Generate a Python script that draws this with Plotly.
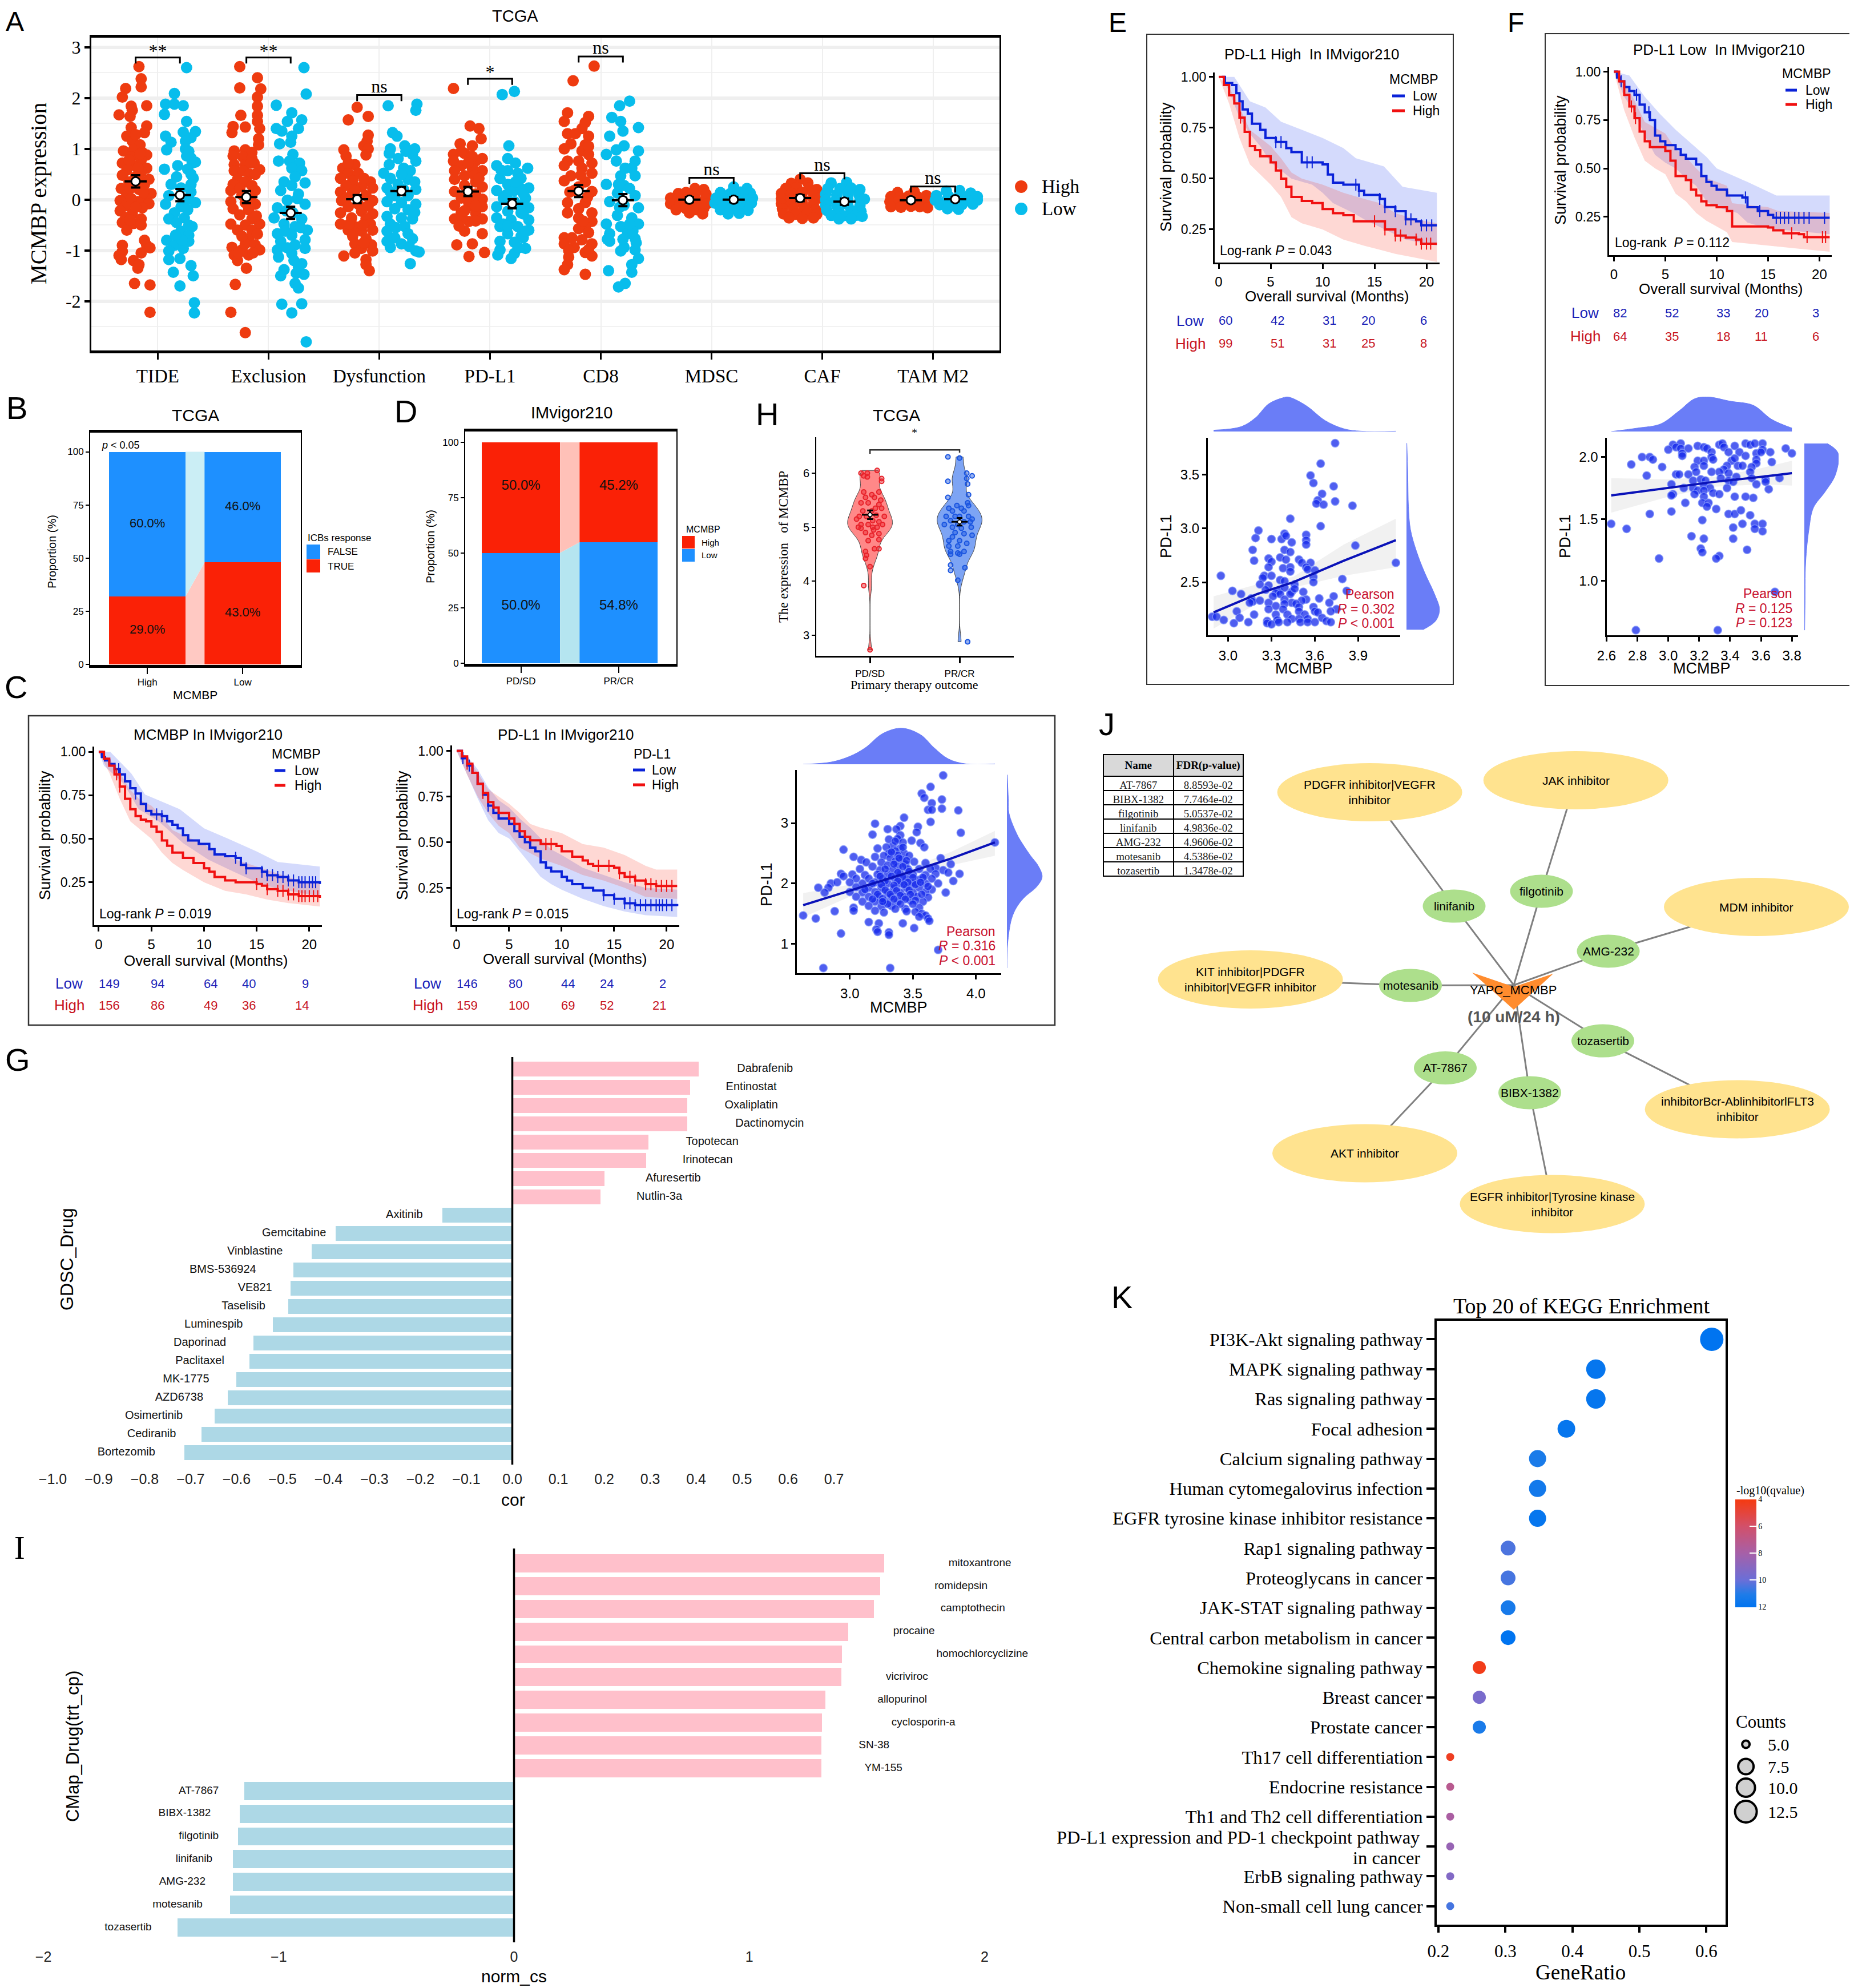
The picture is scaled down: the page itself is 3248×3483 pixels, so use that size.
import bisect
import plotly.graph_objects as go

W, H = 3248, 3483
PAD = 8  # the page body keeps its default margin, so everything is drawn this much up and left
SANS = "Liberation Sans"
SERIF = "Liberation Serif"
RED_A, BLUE_A = "#EE3B10", "#08BDEC"
BAR_BLUE, BAR_RED = "#1E90FF", "#FA2106"
KM_BLUE, KM_RED = "#0A22D8", "#F01010"
DOT_FILL = "rgba(20,40,235,0.75)"
DENS = "#6A7DF7"
TXT_RED = "#C8102E"
TBL_BLUE = "#1A1FB8"

# ---------- panel A ----------
a_groups = ["TIDE", "Exclusion", "Dysfunction", "PD-L1", "CD8", "MDSC", "CAF", "TAM M2"]
a_means_high = [0.36, 0.05, 0.01, 0.16, 0.17, 0.0, 0.03, -0.01]
a_means_low = [0.09, -0.26, 0.17, -0.08, -0.01, 0.0, -0.04, 0.01]
a_err = [0.12, 0.12, 0.08, 0.09, 0.12, 0.05, 0.06, 0.04]
a_bracket = [2.8, 2.8, 2.06, 2.38, 2.82, 0.43, 0.52, 0.26]
a_sig = ["**", "**", "ns", "*", "ns", "ns", "ns", "ns"]

tide_high = [(.03,2.62),(.05,2.38),(.05,2.22),(-.09,2.19),(-.12,2.02),(.1,1.85),(-.04,1.84),(-.03,1.76),(-.15,1.67),(-.05,1.64),(.1,1.45),(-.04,1.42),(.08,1.32),(-.08,1.25),(-.03,1.15),(.04,1.08),(-.11,.96),(-.02,.98),(.06,.93),(.1,.88),(-.04,.84),(.05,.78),(-.12,.72),(-.03,.68),(.1,.62),(-.08,.58),(.05,.55),(-.12,.48),(0,.45),(.12,.4),(-.06,.35),(.08,.3),(-.13,.22),(.03,.2),(.14,.12),(-.08,.1),(.08,.04),(-.14,-.02),(.02,-.04),(.12,-.08),(-.09,-.12),(.06,-.16),(-.14,-.22),(-.03,-.28),(-.09,-.35),(.05,-.38),(-.12,-.45),(-.02,-.47),(.05,-.5),(-.08,-.6),(.08,-.8),(-.12,-.9),(.1,-.9),(.13,-.95),(-.12,-1.02),(.05,-1.05),(-.15,-1.1),(-.13,-1.18),(-.02,-1.2),(.03,-1.28),(.02,-1.35),(-.01,-1.65),(.13,-1.68),(.13,-2.22),(.02,.62),(-.06,.78),(.03,.42),(-.05,.22),(.07,.14),(-.04,.02),(.0,-.15),(-.05,-.4),(.0,1.28),(.04,.9)]
tide_low = [(.06,2.6),(-.05,2.09),(-.13,1.88),(-.05,1.88),(.03,1.85),(-.14,1.68),(.06,1.54),(.14,1.34),(.03,1.33),(-.13,1.25),(.1,1.22),(-.08,1.13),(-.12,.98),(.05,1.0),(.06,.86),(.11,.72),(-.02,.67),(-.14,.6),(.14,.74),(-.03,.45),(.12,.42),(-.08,.3),(.1,.3),(.01,.23),(-.1,.08),(.08,.03),(.14,-.06),(-.13,-.09),(.01,-.14),(-.05,-.26),(-.1,-.38),(.04,-.36),(-.03,-.45),(.11,-.53),(.01,-.62),(.08,-.7),(-.12,-.8),(.08,-.82),(-.05,-.9),(-.1,-1.01),(.03,-.96),(-.1,-1.18),(0,-1.16),(.1,-1.3),(-.06,-1.43),(.12,-1.5),(0,-1.7),(.13,-2.03),(.13,-2.23),(.07,.6),(.1,.5),(.1,.15),(.05,-.03),(.07,-.2),(.08,-.5),(.02,-.8),(.08,.95),(.1,.82),(-.04,-.7),(.05,1.15)]
excl_high = [(-.06,2.62),(.1,2.4),(-.06,2.2),(.13,2.18),(.1,2.02),(.1,1.84),(-.05,1.66),(.1,1.66),(.1,1.54),(-.01,1.43),(-.12,1.44),(-.13,1.32),(.12,1.4),(.11,1.2),(.11,1.08),(-.11,.96),(-.01,.98),(.05,.93),(-.12,.86),(-.03,.84),(.05,.81),(-.11,.69),(-.01,.69),(.07,.72),(-.11,.57),(-.03,.57),(.12,.59),(.03,.5),(-.08,.4),(-.12,.3),(-.01,.35),(.05,.28),(-.14,.18),(.08,.18),(-.04,.1),(-.14,-.04),(-.01,-.06),(.08,-.09),(-.12,-.18),(.02,-.2),(-.06,-.3),(.05,-.38),(-.14,-.48),(-.01,-.5),(.12,-.48),(-.08,-.6),(.05,-.6),(.02,-.77),(-.13,-.94),(-.01,-.87),(.08,-.89),(-.04,-.99),(.12,-.99),(-.11,-1.09),(.02,-1.09),(-.08,-1.2),(0,-1.35),(-.1,-1.67),(-.14,-2.22),(-.01,-2.62),(.04,.72),(.08,.5),(-.06,.22),(.04,.02),(.09,-.32),(-.04,-.72),(.06,-1.05),(-.07,-1.05),(.1,-.68)]
excl_low = [(.12,2.6),(.14,2.08),(-.13,1.86),(.01,1.71),(-.03,1.54),(.1,1.57),(-.13,1.4),(-.08,1.35),(.07,1.4),(.01,1.25),(-.1,1.1),(0,1.13),(.02,.89),(-.11,.76),(-.01,.76),(.08,.72),(.01,.62),(.1,.57),(-.06,.35),(.13,.33),(.01,.28),(-.09,.18),(.07,.11),(-.03,-.01),(.13,-.09),(-.12,-.16),(.02,-.26),(-.15,-.36),(.1,-.38),(-.06,-.48),(.04,-.53),(.15,-.6),(-.12,-.67),(.01,-.7),(-.09,-.82),(.13,-.79),(.04,-.89),(-.12,-.99),(.13,-.96),(.01,-1.06),(-.11,-1.13),(.1,-1.26),(-.06,-1.38),(.07,-1.33),(-.09,-1.5),(.12,-1.47),(.04,-1.65),(.07,-1.74),(-.08,-2.06),(.1,-2.05),(.01,-2.23),(.14,-2.8),(.04,.45),(.06,.02),(-.04,-.22),(.09,-.55),(-.05,-.62),(-.03,-.95),(.03,-1.2),(.05,-1.45)]
dysf_high = [(0,1.82),(.1,1.64),(-.08,1.57),(.1,1.27),(.09,1.15),(.06,1.06),(-.12,.98),(.1,1.0),(-.1,.86),(.08,.88),(-.02,.69),(-.13,.62),(-.08,.52),(.01,.52),(-.15,.42),(-.04,.37),(.12,.35),(-.1,.28),(.04,.25),(.14,.23),(-.15,.15),(-.05,.1),(.08,.08),(-.14,-.02),(.14,-.02),(.01,-.09),(-.08,-.14),(-.15,-.26),(.04,-.23),(.14,-.28),(-.05,-.36),(.08,-.38),(-.15,-.48),(-.02,-.53),(.12,-.48),(-.08,-.6),(.04,-.62),(.14,-.6),(-.04,-.72),(.08,-.77),(-.02,-.87),(.13,-.89),(.04,-.96),(.14,-1.01),(-.02,-1.05),(-.12,-1.11),(.08,-1.18),(.08,-1.28),(.11,-1.4),(-.08,.72),(.06,.42),(-.02,.18),(.1,-.12),(-.07,-.48),(-.1,.02),(.05,-.5),(.06,-.85)]
dysf_low = [(-.12,1.85),(.14,1.88),(.13,1.76),(-.08,1.32),(-.04,1.25),(.03,1.06),(-.1,1.0),(.12,1.0),(-.11,.91),(.1,.89),(-.03,.81),(.13,.76),(-.11,.69),(.02,.62),(.08,.57),(-.16,.52),(-.1,.42),(.06,.4),(-.03,.3),(-.13,.23),(.13,.2),(-.06,.08),(.06,.08),(-.13,-.04),(0,-.06),(.13,-.09),(-.06,-.18),(.06,-.2),(-.13,-.33),(0,-.36),(.1,-.38),(-.1,-.48),(.03,-.53),(-.13,-.62),(.06,-.67),(-.06,-.75),(.1,-.77),(-.13,-.82),(0,-.87),(-.1,-.94),(.13,-1.01),(.16,-1.03),(.08,-1.26),(.0,.5),(.12,.35),(.02,.2),(-.1,.15),(.12,-.25),(-.05,-.55),(.07,-.92),(.04,.95)]
pdl1_high = [(-.13,2.19),(.02,1.45),(.1,1.4),(.12,1.2),(-.07,1.1),(.04,1.06),(-.13,.89),(-.03,.91),(.13,.81),(.07,.76),(-.13,.76),(-.06,.67),(.04,.62),(-.12,.57),(.13,.57),(-.03,.47),(-.12,.4),(.07,.35),(-.03,.28),(.13,.25),(-.12,.16),(.07,.11),(-.06,.03),(.13,.01),(-.12,-.11),(.01,-.11),(.13,-.14),(-.06,-.26),(.07,-.26),(-.12,-.38),(.01,-.43),(.13,-.38),(-.03,-.62),(.13,-.67),(.04,-.87),(-.1,-.89),(.15,-1.04),(.01,-1.12),(.06,.48),(.0,.18),(.05,.0),(.0,-.02),(-.05,-.36),(.07,-.42),(.04,.85),(-.06,.95),(.0,.72),(.1,.42),(.07,-.12),(-.03,-.22),(-.08,-.52)]
pdl1_low = [(.02,2.13),(-.09,2.07),(-.03,1.06),(-.04,.81),(-.14,.67),(.14,.62),(-.04,.57),(.05,.52),(-.11,.42),(.08,.42),(-.04,.3),(.15,.23),(-.14,.18),(.02,.18),(-.08,.03),(.12,.03),(.02,-.04),(-.14,-.14),(.15,-.16),(-.04,-.23),(.08,-.26),(-.14,-.36),(-.01,-.4),(.15,-.4),(-.11,-.53),(.05,-.53),(.15,-.6),(-.04,-.67),(.08,-.72),(-.11,-.82),(.02,-.84),(.12,-.96),(-.11,-.99),(.02,-1.06),(-.13,-1.09),(-.01,-1.16),(.03,.72),(-.1,.58),(.08,.22),(.1,.12),(-.05,.1),(.07,-.12),(.1,-.28),(-.08,-.48),(.1,-.75),(-.04,-.52),(.03,.35),(.12,-.62),(.06,-.95)]
cd8_high = [(.14,2.63),(-.05,2.34),(-.1,1.71),(.09,1.64),(-.13,1.54),(.06,1.52),(.03,1.4),(-.1,1.3),(.09,1.25),(-.07,1.1),(.06,1.08),(-.13,1.0),(.03,.96),(.09,.89),(-.1,.76),(0,.76),(.12,.72),(-.13,.67),(.03,.62),(.12,.52),(-.07,.47),(-.13,.37),(.06,.35),(-.04,.18),(.12,.16),(-.1,-.06),(.06,-.06),(0,-.18),(.12,-.26),(-.1,-.26),(0,-.36),(.12,-.43),(.06,-.53),(0,-.57),(.09,-.65),(-.13,-.75),(.03,-.79),(.12,-.87),(-.13,-.87),(-.04,-.94),(.06,-1.04),(.12,-1.11),(-.09,-1.13),(-.1,-1.28),(-.13,-1.38),(.06,-1.47),(.02,.48),(.08,.05),(-.03,1.3),(.0,.25),(-.08,.15),(-.06,-.75),(-.09,-1.0),(.09,-.98),(.04,-.42),(.09,1.05)]
cd8_low = [(.06,1.94),(-.03,1.85),(-.1,1.62),(-.02,1.54),(.14,1.42),(0,1.35),(-.12,1.25),(.01,1.06),(-.06,.98),(-.15,.89),(.14,.96),(-.06,.76),(.11,.76),(.08,.62),(-.02,.47),(.11,.47),(-.15,.3),(.01,.28),(-.05,.13),(.11,.08),(-.12,-.04),(.01,-.11),(.14,-.16),(-.05,-.31),(.08,-.36),(-.15,-.48),(-.02,-.53),(.14,-.48),(-.12,-.67),(.04,-.67),(-.12,-.82),(.11,-.77),(.01,-.94),(.11,-.99),(-.02,-1.01),(.14,-1.16),(.08,-1.28),(-.13,-1.4),(.08,-1.43),(.02,-1.65),(-.04,-1.72),(-.04,.3),(.06,.22),(-.03,-.15),(.09,-.62),(.0,-.78),(.06,-.48),(.02,.62),(-.14,-.78),(.12,-.85)]
mdsc_high = [(.05,.22),(.13,.2),(-.1,.12),(-.03,.14),(.05,.1),(.15,.11),(-.17,.03),(-.1,.02),(-.02,.04),(.06,.0),(.15,.02),(-.17,-.08),(-.09,-.1),(0,-.07),(.08,-.1),(.16,-.08),(-.12,-.2),(-.03,-.18),(.07,-.2),(.13,-.17),(0,-.26),(.12,-.28)]
mdsc_low = [(.0,.25),(.12,.22),(-.12,.14),(-.03,.12),(.06,.15),(.15,.13),(-.16,.03),(-.08,.01),(.02,.04),(.1,.0),(.17,.03),(-.17,-.07),(-.1,-.1),(-.01,-.08),(.08,-.1),(.16,-.07),(-.12,-.2),(-.03,-.2),(.06,-.18),(.13,-.21),(-.05,-.28),(.05,-.27)]
caf_high = [(.0,.4),(-.08,.32),(.07,.33),(-.13,.22),(-.03,.24),(.08,.23),(.15,.2),(-.17,.12),(-.08,.12),(.02,.14),(.12,.12),(-.17,.02),(-.08,.01),(.02,.03),(.12,.02),(.18,.03),(-.17,-.08),(-.08,-.09),(.02,-.07),(.12,-.09),(-.16,-.18),(-.06,-.19),(.04,-.18),(.14,-.2),(-.15,-.28),(-.04,-.29),(.06,-.28),(.15,-.29),(-.1,-.36),(.02,-.37),(.12,-.36)]
caf_low = [(-.12,.33),(.02,.34),(-.15,.22),(-.04,.22),(.06,.23),(.14,.2),(-.17,.11),(-.07,.1),(.03,.12),(.13,.1),(-.17,0),(-.08,-.02),(.03,.01),(.14,-.01),(.18,.01),(-.17,-.11),(-.07,-.12),(.03,-.1),(.14,-.12),(-.16,-.21),(-.05,-.22),(.06,-.21),(.15,-.23),(-.12,-.31),(-.01,-.32),(.1,-.31),(.16,-.33),(-.05,-.38),(.06,-.38)]
tam_high = [(-.12,.14),(.03,.16),(-.18,.06),(-.1,.05),(-.02,.07),(.06,.06),(.14,.08),(-.19,-.04),(-.11,-.03),(-.02,-.04),(.06,-.03),(.14,-.04),(-.18,-.14),(-.09,-.15),(0,-.13),(.08,-.14),(.15,-.16)]
tam_low = [(-.08,.17),(.04,.18),(.14,.13),(-.17,.08),(-.06,.07),(.04,.08),(.12,.07),(.2,.06),(-.18,-.01),(-.08,-.02),(.02,-.01),(.12,-.02),(.2,-.01),(-.14,-.1),(-.04,-.11),(.06,-.1),(.16,-.09),(-.07,-.18),(.03,-.19)]
a_high = [tide_high, excl_high, dysf_high, pdl1_high, cd8_high, mdsc_high, caf_high, tam_high]
a_low = [tide_low, excl_low, dysf_low, pdl1_low, cd8_low, mdsc_low, caf_low, tam_low]

# ---------- panels B, D ----------
b_true = [32, 48]
b_false = [68, 52]
b_text_false = ["60.0%", "46.0%"]
b_text_true = ["29.0%", "43.0%"]
b_text_false_y = [66, 74]
b_text_true_y = [16, 24]
b_ticks = ["High", "Low"]
d_low = [50, 54.8]
d_high = [50, 45.2]
d_text_low = ["50.0%", "54.8%"]
d_text_high = ["50.0%", "45.2%"]
d_ticks = ["PD/SD", "PR/CR"]

# ---------- panel H ----------
h_ticks = ["PD/SD", "PR/CR"]
h_mean = [5.23, 5.1]
h_err = [0.08, 0.07]
h_high = [(-.1,6.0),(-.03,6.0),(.08,6.05),(-.07,5.95),(.13,5.9),(.13,5.85),(-.03,5.93),(-.07,5.65),(.02,5.6),(.1,5.65),(-.05,5.55),(.05,5.55),(.12,5.5),(-.1,5.45),(-.02,5.45),(.06,5.35),(.1,5.42),(-.08,5.3),(.02,5.3),(.13,5.35),(-.12,5.2),(-.04,5.2),(.07,5.22),(.03,5.12),(-.15,5.15),(-.1,5.05),(.1,5.1),(.16,5.2),(-.02,5.05),(.08,5.0),(-.1,4.98),(-.13,5.0),(.04,4.95),(.14,5.05),(.03,5.0),(.1,4.88),(-.05,4.9),(.02,4.85),(.1,4.77),(-.02,4.75),(.05,4.6),(.1,4.6),(-.05,4.55),(-.05,4.42),(-.04,4.48),(0,4.27),(-.07,3.92),(0,2.73)]
h_low = [(-.13,6.3),(0,6.28),(.14,5.95),(.08,6.0),(.08,5.9),(-.13,5.85),(.09,5.8),(.1,5.6),(-.13,5.55),(.09,5.45),(-.03,5.4),(.02,5.35),(.1,5.4),(-.12,5.35),(-.08,5.3),(.05,5.3),(-.05,5.2),(0,5.2),(.1,5.2),(-.15,5.2),(.14,5.15),(-.1,5.12),(.05,5.1),(-.02,5.05),(.12,5.1),(-.17,5.05),(.02,4.98),(-.08,5.0),(.13,5.0),(-.05,4.9),(.05,4.88),(.14,4.85),(-.08,4.82),(-.12,4.75),(0,4.75),(-.12,4.65),(-.02,4.65),(.08,4.7),(-.1,4.55),(-.1,4.5),(-.02,4.52),(.05,4.55),(0,4.5),(-.1,4.3),(.06,4.25),(-.1,4.2),(-.02,4.02),(.09,2.88)]

# ---------- survival curves (month, probability) ----------
c1_low = [(0,1),(.3,.97),(.6,.95),(1,.93),(1.5,.9),(2,.87),(2.5,.83),(3,.79),(3.5,.76),(4,.7),(4.5,.66),(5,.64),(6,.63),(6.5,.6),(7,.58),(7.5,.56),(8,.52),(8.5,.49),(9.5,.47),(10.5,.44),(11,.41),(12,.4),(13,.39),(13.5,.35),(14,.33),(15,.33),(15.5,.31),(16,.29),(17,.28),(18,.26),(19,.25),(21,.24)]
c1_high = [(0,1),(.5,.96),(1,.92),(1.5,.87),(2,.8),(2.5,.73),(3,.67),(3.5,.63),(4,.61),(4.5,.6),(5,.57),(5.5,.54),(6,.49),(6.5,.46),(7,.42),(8,.39),(9,.36),(10,.33),(10.5,.31),(11,.28),(12,.26),(13,.25),(15,.24),(15.5,.23),(16,.21),(17,.2),(18,.18),(19,.17),(21,.16)]
c1_low_up = [(0,1),(1.1,1),(3.1,.875),(4.4,.754),(7.7,.67),(10,.56),(12.3,.5),(15,.427),(17,.366),(21,.34)]
c1_low_dn = [(0,1),(.5,.92),(2.4,.815),(3.8,.67),(5.7,.6),(8,.475),(10.4,.38),(13,.305),(15.6,.233),(19,.19),(21,.17)]
c1_high_up = [(0,1),(1,.96),(2,.88),(3,.78),(4,.72),(5,.69),(6,.63),(7,.55),(8,.52),(10,.47),(11,.42),(13,.38),(15,.34),(17,.3),(19,.26),(21,.25)]
c1_high_dn = [(0,1),(1,.88),(2,.73),(3,.6),(4,.55),(5,.5),(6,.42),(7,.36),(8,.32),(10,.25),(12,.2),(14,.18),(16,.15),(18,.13),(21,.11)]
c1_cens_low = [1.9,3.5,5.5,6,13,14,15.5,16,16.5,17,17.5,18,18.5,19,19.3,19.6,20,20.3,20.6]
c1_cens_high = [1.7,2,15,16,17,17.5,18,18.5,19,19.3,19.6,20,20.4,20.8]

c2_low = [(0,1),(.5,.96),(1,.92),(1.5,.88),(2,.82),(2.5,.76),(3,.7),(3.5,.66),(4,.63),(5,.6),(5.5,.56),(6,.53),(6.5,.5),(7,.47),(7.5,.45),(8,.39),(8.5,.36),(9,.34),(10,.31),(10.5,.29),(11,.27),(12,.25),(13,.235),(14,.21),(15,.19),(16,.165),(17,.155),(21,.15)]
c2_high = [(0,1),(.5,.97),(1,.93),(1.5,.88),(2,.82),(2.5,.77),(3,.72),(3.5,.69),(4,.66),(5,.63),(5.5,.6),(6,.56),(6.5,.53),(7,.51),(8,.49),(9.5,.48),(10,.45),(11,.42),(12,.4),(12.5,.38),(13,.37),(15,.36),(15.5,.33),(16,.31),(17,.29),(18,.27),(19,.26),(21,.26)]
c2_low_up = [(0,1),(1,.97),(2,.9),(3,.8),(4,.73),(5,.69),(6,.63),(7,.58),(8,.52),(9,.46),(10,.43),(12,.36),(14,.32),(16,.28),(18,.25),(21,.24)]
c2_low_dn = [(0,1),(1,.87),(2,.74),(3,.62),(4,.55),(5,.52),(6,.45),(7,.38),(8,.31),(9,.27),(10,.24),(12,.19),(14,.15),(16,.12),(18,.1),(21,.09)]
c2_high_up = [(0,1),(1,.97),(2,.88),(3,.79),(4,.75),(5,.71),(6,.66),(7,.6),(8,.58),(10,.55),(12,.49),(14,.47),(16,.43),(18,.37),(19,.35),(21,.35)]
c2_high_dn = [(0,1),(1,.87),(2,.75),(3,.66),(4,.59),(5,.55),(6,.47),(7,.44),(8,.41),(10,.37),(12,.32),(14,.29),(16,.25),(18,.2),(21,.19)]
c2_cens_low = [.6,1.2,3,14,15,16,16.5,17,17.5,18,18.5,19,19.3,19.6,20,20.5]
c2_cens_high = [1,2.5,8.5,9,13.5,14.5,15.5,16.5,17,18,18.5,19,19.5,20,20.5]

e_low = [(.3,1),(.6,.97),(1.3,.96),(1.7,.92),(2,.88),(2.3,.84),(2.8,.82),(3.2,.77),(4,.74),(4.5,.7),(5.5,.68),(6.5,.65),(7,.63),(8,.58),(10,.57),(10.5,.52),(11,.48),(12,.47),(13.5,.44),(14,.42),(15.5,.4),(16,.36),(17,.34),(18,.3),(19,.29),(19.5,.27),(21,.27)]
e_high = [(0,1),(.5,.96),(1,.91),(1.5,.87),(2,.8),(2.5,.73),(3,.66),(3.5,.64),(4,.61),(5,.58),(5.5,.54),(6,.5),(6.5,.46),(7,.41),(8,.39),(9,.38),(10,.35),(11,.33),(12,.32),(13,.29),(15.5,.29),(16,.25),(17,.22),(18,.21),(19,.2),(19.5,.18),(21,.18)]
e_low_up = [(.3,1),(1.5,1),(3,.88),(4.5,.85),(6,.78),(8,.74),(10,.7),(12,.65),(13.2,.6),(15.9,.56),(17,.5),(17.7,.46),(21,.43)]
e_low_dn = [(.3,1),(1,.93),(2,.8),(3,.72),(4,.66),(5,.58),(6,.54),(7,.5),(9,.47),(10,.43),(11,.38),(13,.33),(14,.3),(16,.25),(18,.2),(21,.17)]
e_high_up = [(0,1),(1,.95),(2,.85),(3,.74),(4,.7),(5,.66),(6,.6),(7,.53),(8,.5),(10,.47),(12,.43),(14,.4),(15.5,.38),(17,.33),(19,.3),(21,.28)]
e_high_dn = [(0,1),(1,.87),(2,.7),(3,.57),(4,.52),(5,.47),(6,.41),(7,.31),(8,.28),(10,.25),(12,.2),(14,.17),(15.5,.15),(17,.13),(19,.11),(21,.09)]
e_cens_low = [5.5,6,8.5,9,13.2,13.5,15.5,16,17,18,18.5,19.5,20,20.5]
e_cens_high = [2.1,15,16,17,17.5,19,19.5,20,20.4]

f_low = [(0,1),(.3,.97),(.6,.95),(1,.92),(1.5,.9),(2,.88),(2.5,.83),(3,.79),(3.5,.75),(4,.67),(4.5,.64),(5,.62),(6,.6),(6.5,.57),(7,.55),(8,.52),(8.5,.46),(9,.43),(9.5,.41),(10,.39),(11,.36),(12.5,.35),(13,.3),(14,.28),(15,.26),(15.5,.245),(21,.245)]
f_high = [(0,1),(.5,.95),(1,.88),(1.5,.82),(2,.76),(2.5,.69),(3,.64),(3.5,.61),(5,.59),(5.5,.54),(6,.46),(7,.44),(7.5,.39),(8,.36),(8.5,.33),(9,.31),(10,.3),(11,.28),(11.5,.2),(15,.195),(15.5,.18),(16.5,.165),(18,.16),(18.5,.145),(21,.145)]
f_low_up = [(0,1),(1.5,.98),(3,.87),(4.5,.78),(6,.7),(9,.56),(10,.5),(13,.43),(15.8,.36),(21,.36)]
f_low_dn = [(0,1),(1,.87),(2,.79),(3,.67),(4,.57),(5,.53),(6,.5),(7,.45),(8,.41),(9,.33),(10,.3),(12,.27),(13,.22),(15,.19),(21,.16)]
f_high_up = [(0,1),(1,.95),(2,.85),(3,.74),(4,.71),(5,.68),(6,.6),(7,.56),(8,.5),(9,.45),(10,.43),(11,.41),(11.5,.32),(15,.3),(16,.28),(21,.27)]
f_high_dn = [(0,1),(1,.8),(2,.66),(3,.54),(4,.5),(5,.47),(6,.37),(7,.33),(8,.27),(9,.23),(10,.2),(11,.17),(11.5,.12),(15,.1),(18,.085),(21,.07)]
f_cens_low = [.7,2.2,3.4,12.8,14.2,15.8,16.2,16.6,17,17.6,18,18.5,19,20.5]
f_cens_high = [1.7,2.1,17.3,18.8,20.3,20.6]

c1_risk_low = ["149", "94", "64", "40", "9"]
c1_risk_high = ["156", "86", "49", "36", "14"]
c2_risk_low = ["146", "80", "44", "24", "2"]
c2_risk_high = ["159", "100", "69", "52", "21"]
e_risk_low = ["60", "42", "31", "20", "6"]
e_risk_high = ["99", "51", "31", "25", "8"]
f_risk_low = ["82", "52", "33", "20", "3"]
f_risk_high = ["64", "35", "18", "11", "6"]

# ---------- MCMBP vs PD-L1 scatters ----------
c3_points = [(3.74,3.79),(3.64,3.6),(3.57,3.49),(3.59,3.42),(3.73,3.39),(3.65,3.33),(3.73,3.24),(3.62,3.22),(3.65,3.22),(3.86,3.21),(3.43,3.09),(3.64,3.02),(3.2,2.99),(3.4,2.95),(3.3,2.9),(3.37,2.9),(3.54,2.94),(3.53,2.85),(3.88,2.84),(3.18,2.81),(3.4,2.8),(3.31,2.73),(3.49,2.71),(3.56,2.67),(3.59,2.6),(4.15,2.68),(2.95,2.56),(3.03,2.44),(3.09,2.39),(3.38,2.74),(3.42,2.68),(3.34,2.62),(3.29,2.6),(3.22,2.58),(3.4,2.58),(3.36,2.54),(3.31,2.5),(3.43,2.5),(3.27,2.46),(3.38,2.47),(3.2,2.44),(3.47,2.46),(3.32,2.42),(3.41,2.4),(3.36,2.37),(3.13,2.35),(3.25,2.35),(3.51,2.36),(3.6,2.34),(3.44,2.32),(3.3,2.3),(3.38,2.28),(3.18,2.28),(3.68,2.26),(3.8,2.32),(3.72,2.42),(3.08,2.24),(3.24,2.22),(3.34,2.22),(3.46,2.24),(3.55,2.24),(3.64,2.24),(3.74,2.22),(3.87,2.16),(2.93,2.16),(2.95,2.12),(3.02,2.15),(3.12,2.14),(3.22,2.15),(3.3,2.15),(3.4,2.16),(3.5,2.15),(3.6,2.14),(3.68,2.16),(3.78,2.18),(3.05,2.08),(3.15,2.08),(3.26,2.08),(3.36,2.08),(3.45,2.08),(3.55,2.06),(3.65,2.08),(3.82,2.04),(2.85,2.0),(2.9,2.02),(3.0,2.02),(3.1,2.0),(3.2,2.02),(3.3,2.0),(3.4,2.0),(3.5,2.0),(3.6,2.0),(3.7,2.0),(2.75,1.93),(2.83,1.93),(3.05,1.94),(3.15,1.93),(3.25,1.93),(3.35,1.92),(3.45,1.93),(3.55,1.93),(3.65,1.9),(2.8,1.85),(3.0,1.86),(3.1,1.85),(3.2,1.86),(3.3,1.85),(3.4,1.85),(3.5,1.85),(3.6,1.86),(3.76,1.85),(3.05,1.78),(3.15,1.78),(3.23,1.78),(3.33,1.78),(3.43,1.78),(3.53,1.78),(3.62,1.77),(3.1,1.7),(3.2,1.7),(3.28,1.7),(3.38,1.7),(3.48,1.72),(3.58,1.7),(3.15,1.63),(3.25,1.62),(3.33,1.63),(3.03,1.6),(3.44,1.58),(3.55,1.6),(3.2,1.55),(2.88,1.54),(3.03,1.55),(3.27,1.52),(3.45,1.54),(3.52,1.53),(3.57,1.5),(3.6,1.47),(3.62,1.42),(3.63,1.38),(3.55,1.45),(2.63,1.47),(2.73,1.42),(3.15,1.36),(3.23,1.34),(3.42,1.34),(3.51,1.26),(2.93,1.17),(3.21,1.24),(3.22,1.2),(3.31,1.19),(3.31,1.15),(3.7,.9),(2.79,.6),(3.32,.6),
             (3.36,2.7),(3.42,2.6),(3.33,2.52),(3.39,2.42),(3.45,2.38),(3.35,2.32),(3.42,2.28),(3.28,2.24),(3.38,2.18),(3.47,2.2),(3.33,2.12),(3.42,2.1),(3.5,2.1),(3.28,2.04),(3.38,2.04),(3.46,2.02),(3.25,1.98),(3.35,1.97),(3.43,1.98),(3.52,1.98),(3.28,1.89),(3.37,1.88),(3.47,1.89),(3.22,1.82),(3.32,1.82),(3.4,1.8),(3.48,1.82),(3.57,1.82),(3.18,1.74),(3.26,1.75),(3.35,1.74),(3.44,1.74),(3.52,1.72),(3.3,1.66),(3.4,1.66),(3.5,1.66),(3.58,2.1),(3.56,2.02),(3.62,1.95),(3.24,2.12),(3.18,2.0),(3.12,1.9),(3.36,1.58),(3.26,1.7)]
e_points = [(3.74,3.79),(3.64,3.6),(3.57,3.49),(3.59,3.42),(3.73,3.39),(3.65,3.32),(3.86,3.21),(3.74,3.25),(3.62,3.26),(3.61,3.23),(3.66,3.22),(3.43,3.09),(3.64,3.02),(3.21,2.98),(3.19,2.91),(3.3,2.9),(3.37,2.9),(3.39,2.95),(3.4,2.93),(3.44,2.87),(3.54,2.94),(3.54,2.89),(3.54,2.85),(3.17,2.8),(3.88,2.84),(3.39,2.8),(3.43,2.78),(3.18,2.7),(3.28,2.72),(3.3,2.69),(3.36,2.73),(3.4,2.71),(3.49,2.71),(3.51,2.68),(3.57,2.68),(4.16,2.68),(3.28,2.64),(3.38,2.63),(3.43,2.64),(3.54,2.64),(3.55,2.62),(3.6,2.61),(3.43,2.6),(2.95,2.56),(3.25,2.56),(3.3,2.56),(3.24,2.54),(3.36,2.52),(3.39,2.51),(3.59,2.55),(3.59,2.5),(3.79,2.53),(3.22,2.48),(3.28,2.47),(3.46,2.48),(3.03,2.42),(3.26,2.43),(3.35,2.42),(3.39,2.45),(3.33,2.4),(3.44,2.41),(3.43,2.39),(3.52,2.41),(3.82,2.42),(3.09,2.39),(3.36,2.39),(3.31,2.37),(3.46,2.44),(3.73,2.37),(3.16,2.35),(3.63,2.35),(3.39,2.34),(3.54,2.34),(3.51,2.33),(3.17,2.32),(3.22,2.33),(3.15,2.31),(3.7,2.31),(3.28,2.31),(3.44,2.31),(3.47,2.3),(3.33,2.28),(3.39,2.3),(3.28,2.25),(3.49,2.27),(3.59,2.27),(3.38,2.25),(3.49,2.23),(3.06,2.23),(3.6,2.23),(3.75,2.25),(3.71,2.23),(2.89,2.18),(2.92,2.18),(3.18,2.2),(3.33,2.2),(3.41,2.2),(3.53,2.2),(3.62,2.22),(3.08,2.17),(2.97,2.15),(3.27,2.14),(3.34,2.15),(3.44,2.16),(3.49,2.16),(3.55,2.16),(3.65,2.17),(3.04,2.12),(3.14,2.13),(3.27,2.12),(3.3,2.11),(3.35,2.13),(3.41,2.13),(3.5,2.13),(3.55,2.13),(3.6,2.13),(3.68,2.14),(3.71,2.13)]
f_points = [(3.03,2.1),(3.08,2.11),(3.0,2.06),(3.05,2.08),(3.08,2.07),(3.13,2.07),(3.19,2.09),(3.23,2.08),(3.25,2.07),(3.33,2.1),(3.35,2.11),(3.36,2.08),(3.43,2.09),(3.5,2.11),(3.53,2.1),(3.56,2.11),(3.61,2.11),(3.61,2.06),(3.76,2.07),(3.66,2.04),(3.8,2.03),(3.09,2.03),(3.09,2.01),(3.28,2.04),(3.39,2.04),(3.46,2.04),(3.5,2.01),(3.57,2.03),(3.6,2.04),(3.28,2.0),(3.29,1.98),(2.83,2.0),(2.88,2.0),(2.9,1.98),(3.19,1.97),(3.23,1.97),(3.41,1.97),(3.43,1.99),(3.57,1.98),(3.57,1.95),(3.67,1.96),(2.76,1.94),(3.17,1.92),(3.23,1.93),(3.38,1.93),(3.45,1.93),(3.48,1.93),(3.54,1.92),(2.96,1.92),(3.36,1.9),(3.18,1.88),(3.28,1.88),(3.33,1.88),(3.39,1.87),(3.53,1.88),(2.86,1.85),(3.05,1.86),(3.07,1.86),(3.13,1.86),(3.34,1.83),(3.44,1.84),(3.54,1.83),(3.16,1.81),(3.21,1.82),(3.24,1.81),(3.39,1.81),(3.42,1.8),(3.63,1.82),(3.72,1.83),(3.63,1.8),(3.02,1.78),(3.23,1.77),(3.57,1.78),(3.16,1.75),(3.1,1.75),(3.27,1.75),(3.38,1.75),(3.65,1.74),(3.19,1.73),(3.23,1.73),(3.17,1.7),(3.29,1.71),(3.33,1.7),(3.03,1.7),(3.02,1.69),(3.23,1.68),(3.43,1.68),(3.5,1.68),(3.55,1.67),(3.22,1.63),(3.26,1.63),(3.11,1.63),(3.25,1.6),(3.31,1.58),(2.88,1.54),(3.02,1.56),(3.39,1.54),(3.43,1.54),(3.47,1.57),(3.53,1.53),(3.22,1.49),(2.63,1.46),(2.73,1.42),(3.48,1.46),(3.56,1.46),(3.61,1.46),(3.56,1.42),(3.42,1.43),(3.61,1.4),(3.15,1.36),(3.23,1.34),(3.42,1.34),(3.21,1.26),(3.22,1.23),(3.51,1.25),(2.94,1.18),(3.33,1.2),(3.31,1.18),(3.69,.91),(2.79,.6),(3.32,.6)]

c3_fit = [(2.63,1.64,1.44,1.84),(3.0,1.88,1.78,1.98),(3.4,2.14,2.09,2.19),(3.8,2.41,2.3,2.52),(4.15,2.68,2.46,2.87)]
e_fit = [(2.9,2.22,2.07,2.37),(3.2,2.39,2.3,2.48),(3.45,2.5,2.45,2.55),(3.8,2.7,2.56,2.85),(4.16,2.89,2.64,3.09)]
f_fit = [(2.63,1.69,1.55,1.83),(3.0,1.75,1.68,1.82),(3.3,1.8,1.76,1.84),(3.6,1.84,1.78,1.91),(3.8,1.87,1.77,1.97)]

c3_top = [(2.63,0),(2.85,.06),(3.0,.22),(3.12,.45),(3.26,.85),(3.41,1),(3.56,.82),(3.67,.45),(3.78,.15),(3.92,.01),(4.15,.01)]
c3_right = [(.6,0),(1.0,.02),(1.41,.13),(1.6,.27),(1.76,.48),(1.95,.85),(2.11,1),(2.3,.88),(2.46,.67),(2.65,.45),(2.81,.29),(3.16,.06),(3.4,.04),(3.8,.01)]
e_top = [(2.9,.04),(3.09,.14),(3.19,.4),(3.28,.8),(3.38,.98),(3.417,1),(3.54,.75),(3.67,.32),(3.8,.08),(3.92,.01),(4.16,.01)]
e_right = [(2.06,.5),(2.14,.88),(2.245,1),(2.39,.85),(2.59,.55),(2.79,.3),(2.99,.12),(3.2,.06),(3.5,.04),(3.79,.01)]
f_top = [(2.63,0),(2.8,.1),(2.95,.22),(3.07,.6),(3.17,.95),(3.26,1),(3.4,.88),(3.55,.76),(3.67,.35),(3.8,.1)]
f_right = [(.6,.01),(.8,.02),(1.15,.04),(1.42,.14),(1.59,.27),(1.72,.62),(1.86,.93),(2.035,1),(2.11,.68)]

# ---------- panel G ----------
gdsc_drugs = ["Dabrafenib", "Entinostat", "Oxaliplatin", "Dactinomycin", "Topotecan", "Irinotecan", "Afuresertib", "Nutlin-3a", "Axitinib", "Gemcitabine", "Vinblastine", "BMS-536924", "VE821", "Taselisib", "Luminespib", "Daporinad", "Paclitaxel", "MK-1775", "AZD6738", "Osimertinib", "Cediranib", "Bortezomib"]
gdsc_cor = [.405, .387, .381, .381, .296, .291, .2, .192, -.152, -.385, -.437, -.476, -.483, -.488, -.521, -.563, -.572, -.601, -.619, -.648, -.676, -.714]
gdsc_label_x = [.55, .52, .52, .56, .435, .425, .35, .32, -.235, -.475, -.56, -.63, -.56, -.585, -.65, -.68, -.68, -.71, -.725, -.78, -.785, -.84]

# ---------- panel I ----------
cmap_drugs = ["mitoxantrone", "romidepsin", "camptothecin", "procaine", "homochlorcyclizine", "vicriviroc", "allopurinol", "cyclosporin-a", "SN-38", "YM-155", "AT-7867", "BIBX-1382", "filgotinib", "linifanib", "AMG-232", "motesanib", "tozasertib"]
cmap_cs = [1.574, 1.556, 1.529, 1.42, 1.394, 1.391, 1.324, 1.309, 1.306, 1.306, -1.147, -1.165, -1.174, -1.194, -1.194, -1.206, -1.429]
cmap_label_x = [1.98, 1.9, 1.95, 1.7, 1.99, 1.67, 1.65, 1.74, 1.53, 1.57, -1.34, -1.4, -1.34, -1.36, -1.41, -1.43, -1.64]

# ---------- panel J ----------
fdr_names = ["AT-7867", "BIBX-1382", "filgotinib", "linifanib", "AMG-232", "motesanib", "tozasertib"]
fdr_values = ["8.8593e-02", "7.7464e-02", "5.0537e-02", "4.9836e-02", "4.9606e-02", "4.5386e-02", "1.3478e-02"]
hub_xy = (2652, 1726)
hub_shape = [(2579, 1704), (2652, 1769), (2721, 1706), (2652, 1729)]
drug_nodes = ["linifanib", "filgotinib", "AMG-232", "motesanib", "tozasertib", "BIBX-1382", "AT-7867"]
drug_x = [2547.5, 2700.5, 2817.5, 2471, 2808, 2680, 2532]
drug_y = [1587.6, 1561.5, 1666.5, 1726.4, 1823.6, 1914.4, 1871]
class_nodes = ["PDGFR inhibitor|VEGFR<br>inhibitor", "JAK inhibitor", "MDM inhibitor", "KIT inhibitor|PDGFR<br>inhibitor|VEGFR inhibitor", "inhibitorBcr-AblinhibitorlFLT3<br>inhibitor", "EGFR inhibitor|Tyrosine kinase<br>inhibitor", "AKT inhibitor"]
class_x = [2399.6, 2760.7, 3077, 2190.6, 3043.6, 2719.4, 2391]
class_y = [1388, 1367, 1589, 1716, 1943.4, 2109.5, 2020.5]

# ---------- panel K ----------
kegg_terms = ["PI3K-Akt signaling pathway", "MAPK signaling pathway", "Ras signaling pathway", "Focal adhesion", "Calcium signaling pathway", "Human cytomegalovirus infection", "EGFR tyrosine kinase inhibitor resistance", "Rap1 signaling pathway", "Proteoglycans in cancer", "JAK-STAT signaling pathway", "Central carbon metabolism in cancer", "Chemokine signaling pathway", "Breast cancer", "Prostate cancer", "Th17 cell differentiation", "Endocrine resistance", "Th1 and Th2 cell differentiation", "PD-L1 expression and PD-1 checkpoint pathway in cancer", "ErbB signaling pathway", "Non-small cell lung cancer"]
kegg_ratio = [.608, .435, .435, .391, .348, .348, .348, .304, .304, .304, .304, .261, .261, .261, .2176, .2176, .2176, .2176, .2176, .2176]
kegg_counts = [14, 10, 10, 9, 8, 8, 8, 7, 7, 7, 7, 6, 6, 6, 5, 5, 5, 5, 5, 5]
kegg_qvalue = [12, 11.8, 11.8, 11.8, 11.2, 11.4, 11.8, 10.4, 10.5, 11.3, 12, 4.2, 9.5, 11.2, 4.4, 7.2, 7.8, 8.5, 9.2, 10.5]
count_diameter = {5: 14, 6: 23, 7: 26, 8: 30, 9: 31, 10: 34, 14: 41}
counts_legend = ["5.0", "7.5", "10.0", "12.5"]
counts_legend_size = [13, 27, 32, 38]

fig = go.Figure()
layout = {}
annotations = []
shapes = []


def px(x):
    return (x - PAD) / W


def py(y):
    return 1 - (y - PAD) / H


def set_axes(i, box, xrange, yrange, xopts=None, yopts=None):
    l, t, r, b = box
    xa = dict(domain=[px(l), px(r)], range=xrange, anchor=f"y{i}", showgrid=False, zeroline=False)
    ya = dict(domain=[py(b), py(t)], range=yrange, anchor=f"x{i}", showgrid=False, zeroline=False)
    xa.update(xopts or {})
    ya.update(yopts or {})
    layout[f"xaxis{i}"] = xa
    layout[f"yaxis{i}"] = ya


def label(x, y, text, size=23, color="black", family=SANS, anchor="center", angle=0):
    annotations.append(dict(x=px(x), y=py(y), xref="paper", yref="paper", text=text, showarrow=False,
                            font=dict(size=size, color=color, family=family), xanchor=anchor, yanchor="middle", textangle=angle))


def paper_rect(box, **kw):
    shapes.append(dict(type="rect", xref="paper", yref="paper", x0=px(box[0]), x1=px(box[2]), y0=py(box[3]), y1=py(box[1]), **kw))


def side_axis(size=23, family=SANS, width=3, ticklen=7, **kw):
    return dict(showline=True, linecolor="black", linewidth=width, ticks="outside", ticklen=ticklen, tickwidth=width,
                tickcolor="black", tickfont=dict(size=size, family=family, color="black"), **kw)


# panel A
set_axes(1, (160, 66, 1751, 614), [0.4, 8.6], [-2.97, 3.19],
         dict(showline=True, mirror=True, linecolor="black", linewidth=5, ticks="outside", ticklen=11, tickwidth=3, tickcolor="black",
              tickvals=list(range(1, 9)), ticktext=a_groups, tickfont=dict(size=33, family=SERIF, color="black"),
              showgrid=True, gridcolor="#EFEFEF", gridwidth=2),
         dict(showline=True, mirror=True, linecolor="black", linewidth=3, ticks="outside", ticklen=9, tickwidth=4, tickcolor="black",
              tickvals=[3, 2, 1, 0, -1, -2], ticktext=["3", "2", "1", "0", "-1", "-2"], tickfont=dict(size=32, family=SERIF, color="black"),
              showgrid=True, gridcolor="#EFEFEF", gridwidth=6, minor=dict(dtick=0.5, showgrid=True, gridcolor="#F2F2F2", gridwidth=2)))
for i in range(8):
    for pts, shift, color in ((a_high[i], -0.2, RED_A), (a_low[i], 0.2, BLUE_A)):
        fig.add_trace(go.Scatter(x=[i + 1 + shift + p[0] for p in pts], y=[p[1] for p in pts], mode="markers",
                                 marker=dict(size=20, color=color), xaxis="x1", yaxis="y1"))
    xs = [i + 0.8, i + 0.8, i + 1.2, i + 1.2]
    top = a_bracket[i]
    fig.add_trace(go.Scatter(x=xs, y=[top - 0.12, top, top, top - 0.12], mode="lines", line=dict(color="black", width=3), xaxis="x1", yaxis="y1"))
    fig.add_trace(go.Scatter(x=[i + 1], y=[top + (0.1 if "*" in a_sig[i] else 0.14)], mode="text", text=[a_sig[i]],
                             textfont=dict(size=32, family=SERIF, color="black"), xaxis="x1", yaxis="y1"))
    for shift, mean in ((-0.2, a_means_high[i]), (0.2, a_means_low[i])):
        fig.add_trace(go.Scatter(x=[i + 1 + shift], y=[mean], mode="markers",
                                 error_y=dict(type="constant", value=a_err[i], color="black", thickness=4, width=8),
                                 error_x=dict(type="constant", value=0.1, color="black", thickness=4, width=0),
                                 marker=dict(size=15, color="white", line=dict(color="black", width=3)), xaxis="x1", yaxis="y1"))
label(902, 28, "TCGA", 29)
label(68, 339, "MCMBP expression", 39, family=SERIF, angle=-90)


def stacked_panel(i, box, rng_top, xr, lower, upper, lower_color, upper_color, lower_soft, upper_soft, ticks):
    set_axes(i, box, xr, [-0.2, rng_top],
             dict(showline=True, mirror=True, linecolor="black", linewidth=5, ticks="outside", ticklen=11, tickwidth=2, tickcolor="black",
                  tickvals=[1, 2], ticktext=ticks, tickfont=dict(size=17, color="black")),
             dict(showline=True, mirror=True, linecolor="black", linewidth=2, ticks="outside", ticklen=6, tickwidth=2, tickcolor="black",
                  tickvals=[0, 25, 50, 75, 100], tickfont=dict(size=17, color="black")))
    xa, ya = f"x{i}", f"y{i}"
    fig.add_trace(go.Scatter(x=[1.4, 1.4, 1.6, 1.6], y=[0, lower[0], lower[1], 0], fill="toself", fillcolor=lower_soft, mode="none", xaxis=xa, yaxis=ya))
    fig.add_trace(go.Scatter(x=[1.4, 1.4, 1.6, 1.6], y=[lower[0], 100, 100, lower[1]], fill="toself", fillcolor=upper_soft, mode="none", xaxis=xa, yaxis=ya))
    fig.add_trace(go.Bar(x=[1, 2], y=lower, width=0.8, marker=dict(color=lower_color, line_width=0), xaxis=xa, yaxis=ya))
    fig.add_trace(go.Bar(x=[1, 2], y=upper, width=0.8, marker=dict(color=upper_color, line_width=0), xaxis=xa, yaxis=ya))


# panel B
stacked_panel(2, (158, 758, 527, 1165), 109, [0.4, 2.61], b_true, b_false, BAR_RED, BAR_BLUE, "#FFC9C3", "#CBEEF5", b_ticks)
fig.add_trace(go.Scatter(x=[1, 2, 1, 2], y=b_text_false_y + b_text_true_y, mode="text", text=b_text_false + b_text_true,
                         textfont=dict(size=22, color="#111"), xaxis="x2", yaxis="y2"))
label(342, 728, "TCGA", 30)
label(91, 967, "Proportion (%)", 20, angle=-90)
label(342, 1217, "MCMBP", 21)
label(176, 780, "<i>p</i> < 0.05", 18, anchor="left")
label(537, 942, "ICBs response", 17, anchor="left")
label(572, 967, "FALSE", 17, anchor="left")
label(572, 992, "TRUE", 17, anchor="left")

# panel D
stacked_panel(3, (815, 756, 1185, 1163), 104.9, [0.43, 2.59], d_low, d_high, BAR_BLUE, BAR_RED, "#B5E5F0", "#FFC1B8", d_ticks)
fig.add_trace(go.Scatter(x=[1, 2, 1, 2], y=[80, 80, 26, 26], mode="text", text=d_text_high + d_text_low,
                         textfont=dict(size=24, color="#111"), xaxis="x3", yaxis="y3"))
label(1002, 723, "IMvigor210", 29)
label(754, 958, "Proportion (%)", 20, angle=-90)
label(1200, 927, "MCMBP", 16, anchor="left")
label(1227, 951, "High", 15, anchor="left")
label(1227, 973, "Low", 15, anchor="left")
for box, color in (((537, 954, 561, 979), BAR_BLUE), ((537, 980, 561, 1003), BAR_RED), ((1195, 939, 1217, 961), BAR_RED), ((1195, 962, 1217, 984), BAR_BLUE)):
    paper_rect(box, fillcolor=color, line_width=0)

# panel H
set_axes(4, (1430, 766, 1776, 1149), [0.4, 2.605], [2.62, 6.665],
         side_axis(17, tickvals=[1, 2], ticktext=h_ticks, ticklen=10, ticklabelstandoff=4),
         side_axis(20, width=2, tickvals=[3, 4, 5, 6], ticklen=6))
for pos, pts, fill, dot, dot_fill in ((1, h_high, "rgba(255,85,85,0.7)", "#E8222A", "rgba(232,34,42,0.45)"), (2, h_low, "rgba(70,125,240,0.7)", "#1A55E0", "rgba(26,85,224,0.45)")):
    fig.add_trace(go.Violin(y=[p[1] for p in pts], x0=pos, points=False, spanmode="hard", bandwidth=0.15, width=0.5, scalemode="width",
                            fillcolor=fill, line=dict(color="#444", width=1), box_visible=False, meanline_visible=False, xaxis="x4", yaxis="y4"))
    fig.add_trace(go.Scatter(x=[pos + p[0] for p in pts], y=[p[1] for p in pts], mode="markers",
                             marker=dict(size=8, color=dot_fill, line=dict(color=dot, width=2)), xaxis="x4", yaxis="y4"))
fig.add_trace(go.Scatter(x=[1, 2], y=h_mean, mode="markers", marker=dict(size=7, color="white", line=dict(color="black", width=1.5)),
                         error_y=dict(type="data", array=h_err, color="black", thickness=3, width=5),
                         error_x=dict(type="constant", value=0.09, color="black", thickness=3, width=0), xaxis="x4", yaxis="y4"))
fig.add_trace(go.Scatter(x=[1, 1, 2, 2], y=[6.36, 6.43, 6.43, 6.38], mode="lines", line=dict(color="#333", width=2.5), xaxis="x4", yaxis="y4"))
label(1602, 758, "*", 20, family=SERIF)
label(1570, 727, "TCGA", 30)
label(1372, 958, "The expression   of MCMBP", 23, family=SERIF, angle=-90)
label(1602, 1200, "Primary therapy outcome", 22, family=SERIF)


def step_at(curve, t):
    times = [p[0] for p in curve]
    return curve[max(bisect.bisect_right(times, t) - 1, 0)][1]


def km_panel(i, box, xr, yr, low, high, bands, cens_low, cens_high, title_xy, title):
    set_axes(i, box, xr, yr,
             side_axis(24, tickvals=[0, 5, 10, 15, 20], ticklen=8, ticklabelstandoff=2),
             side_axis(23, tickvals=[0.25, 0.5, 0.75, 1], tickformat=".2f", ticklen=7))
    xa, ya = f"x{i}", f"y{i}"
    for dn, up, color in bands:
        fig.add_trace(go.Scatter(x=[p[0] for p in dn], y=[p[1] for p in dn], mode="lines", line=dict(width=0), xaxis=xa, yaxis=ya))
        fig.add_trace(go.Scatter(x=[p[0] for p in up], y=[p[1] for p in up], mode="lines", line=dict(width=0),
                                 fill="tonexty", fillcolor=color, xaxis=xa, yaxis=ya))
    for curve, cens, color in ((low, cens_low, KM_BLUE), (high, cens_high, KM_RED)):
        fig.add_trace(go.Scatter(x=[p[0] for p in curve], y=[p[1] for p in curve], mode="lines", line=dict(color=color, width=4, shape="hv"), xaxis=xa, yaxis=ya))
        fig.add_trace(go.Scatter(x=cens, y=[step_at(curve, t) for t in cens], mode="markers",
                                 marker=dict(symbol="line-ns-open", size=15, color=color, line=dict(color=color, width=2)), xaxis=xa, yaxis=ya))
    label(title_xy[0], title_xy[1], title, 26)


def km_text(y_title_x, y_title_y, x_title_x, x_title_y, legend_title, leg_x, leg_y, seg, text_x, rows, log_x, log_y, log_text, risk_x, risk_lab, risk_y, low_vals, high_vals):
    label(y_title_x, y_title_y, "Survival probability", 27, angle=-90)
    label(x_title_x, x_title_y, "Overall survival (Months)", 26)
    label(leg_x, leg_y, legend_title, 23)
    for name, row_y, color in (("Low", rows[0], KM_BLUE), ("High", rows[1], KM_RED)):
        shapes.append(dict(type="line", xref="paper", yref="paper", x0=px(seg[0]), x1=px(seg[1]), y0=py(row_y), y1=py(row_y), line=dict(color=color, width=5)))
        label(text_x, row_y, name, 23, anchor="left")
    label(log_x, log_y, log_text, 23, anchor="left")
    for row_y, vals, name, color, xs in ((risk_y[0], low_vals, "Low", TBL_BLUE, risk_x[0]), (risk_y[1], high_vals, "High", "#C8141E", risk_x[1])):
        label(risk_lab, row_y, name, 26, color=color)
        for x, v in zip(xs, vals):
            label(x, row_y, v, 22, color=color)


def band_colors(dn_low, up_low, dn_high, up_high):
    return [(dn_low, up_low, "rgba(40,70,240,0.2)"), (dn_high, up_high, "rgba(250,60,40,0.2)")]


# panel C
paper_rect((50, 1254, 1848, 1796), line=dict(color="#333", width=2.5))
km_panel(5, (165, 1308, 564, 1621), [-0.43, 21.2], [0.0026, 1.03], c1_low, c1_high, band_colors(c1_low_dn, c1_low_up, c1_high_dn, c1_high_up), c1_cens_low, c1_cens_high, (364, 1287), "MCMBP In IMvigor210")
km_text(79, 1464, 361, 1683, "MCMBP", 519, 1321, (481, 500), 514, (1350, 1376), 172, 1601, "Log-rank <i>P</i> = 0.019",
        ([191.5, 276, 368.5, 436, 534.5], [191.5, 276, 368.5, 436, 528.5]), 121, (1723, 1761), c1_risk_low, c1_risk_high)
km_panel(6, (791.5, 1306, 1190, 1621), [-0.46, 21.2], [0.045, 1.03], c2_low, c2_high, band_colors(c2_low_dn, c2_low_up, c2_high_dn, c2_high_up), c2_cens_low, c2_cens_high, (991, 1287), "PD-L1 In IMvigor210")
km_text(705, 1464, 990, 1680, "PD-L1", 1142, 1321, (1109, 1130), 1139.5, (1349, 1375), 797.5, 1601, "Log-rank <i>P</i> = 0.015",
        ([818, 903, 995, 1063, 1161], [818, 910, 995, 1063, 1155]), 749, (1723, 1761), c2_risk_low, c2_risk_high)

# panel E and F curves
paper_rect((2009, 60, 2546, 1199), line=dict(color="#333", width=2))
paper_rect((2707, 59, 3241, 1201), line=dict(color="#333", width=2))
km_panel(10, (2128, 127, 2522, 460), [-0.385, 21.26], [0.087, 1.022], e_low, e_high, band_colors(e_low_dn, e_low_up, e_high_dn, e_high_up), e_cens_low, e_cens_high, (2298, 95), "PD-L1 High  In IMvigor210")
km_text(2043, 293, 2325, 519, "MCMBP", 2477, 139, (2439, 2461), 2473, (168, 194), 2135, 439, "Log-rank <i>P</i> = 0.043",
        ([2147, 2238, 2328.5, 2396.5, 2493.5], [2147, 2238, 2328.5, 2396.5, 2493.5]), 2085, (562, 602), e_risk_low, e_risk_high)
km_panel(11, (2819, 117, 3209, 447), [-0.47, 21.2], [0.052, 1.025], f_low, f_high, band_colors(f_low_dn, f_low_up, f_high_dn, f_high_up), f_cens_low, f_cens_high, (3011, 87), "PD-L1 Low  In IMvigor210")
km_text(2734, 281, 3015, 506, "MCMBP", 3165, 129, (3128, 3148), 3161, (158, 183), 2827, 425, "Log-rank  <i>P</i> = 0.112",
        ([2838, 2928.6, 3019, 3085.5, 3181], [2838, 2928.6, 3019, 3085.5, 3181]), 2777, (548, 589), f_risk_low, f_risk_high)


def scatter_panel(i, box, xr, yr, xticks, yticks, points, fit, top, right, top_box, right_box, corr, corr_x, corr_y, xtitle_xy, ytitle_xy, xfmt=".1f"):
    set_axes(i, box, xr, yr, side_axis(24, tickvals=xticks, tickformat=xfmt, ticklen=8, ticklabelstandoff=4), side_axis(24, tickvals=yticks, tickformat=xfmt, ticklen=7))
    xa, ya = f"x{i}", f"y{i}"
    fig.add_trace(go.Scatter(x=[f[0] for f in fit], y=[f[2] for f in fit], mode="lines", line=dict(width=0), xaxis=xa, yaxis=ya))
    fig.add_trace(go.Scatter(x=[f[0] for f in fit], y=[f[3] for f in fit], mode="lines", line=dict(width=0), fill="tonexty", fillcolor="rgba(190,190,190,0.22)", xaxis=xa, yaxis=ya))
    fig.add_trace(go.Scatter(x=[p[0] for p in points], y=[p[1] for p in points], mode="markers",
                             marker=dict(size=14, color=DOT_FILL, line=dict(color="rgba(130,150,250,0.8)", width=1.5)), cliponaxis=False, xaxis=xa, yaxis=ya))
    fig.add_trace(go.Scatter(x=[f[0] for f in fit], y=[f[1] for f in fit], mode="lines", line=dict(color="#0A12B8", width=4), xaxis=xa, yaxis=ya))
    hidden = dict(visible=False)
    set_axes(i + 1, top_box, xr, [0, 1.06], hidden, hidden)
    fig.add_trace(go.Scatter(x=[p[0] for p in top], y=[p[1] for p in top], mode="lines", line=dict(color=DENS, width=1, shape="spline"), fill="tozeroy", fillcolor=DENS, xaxis=f"x{i+1}", yaxis=f"y{i+1}"))
    set_axes(i + 2, right_box, [0, 1.02], yr, hidden, hidden)
    fig.add_trace(go.Scatter(x=[p[1] for p in right], y=[p[0] for p in right], mode="lines", line=dict(color=DENS, width=1, shape="spline"), fill="tozerox", fillcolor=DENS, xaxis=f"x{i+2}", yaxis=f"y{i+2}"))
    for text, y in zip(corr, corr_y):
        label(corr_x, y, text, 23, color=TXT_RED, anchor="right")
    label(xtitle_xy[0], xtitle_xy[1], "MCMBP", 27)
    label(ytitle_xy[0], ytitle_xy[1], "PD-L1", 27, angle=-90)


scatter_panel(7, (1396, 1349, 1754, 1705), [2.58, 4.2], [0.514, 3.88], [3, 3.5, 4], [1, 2, 3], c3_points, c3_fit, c3_top, c3_right,
              (1396, 1272, 1754, 1339), (1764, 1349, 1827, 1705), ["Pearson", "<i>R</i> = 0.316", "<i>P</i> < 0.001"], 1746, (1632, 1657, 1683), (1574, 1765), (1343, 1550))
layout["yaxis7"]["tickformat"] = "d"
scatter_panel(12, (2116, 767, 2453, 1113), [2.86, 4.19], [2.008, 3.84], [3, 3.3, 3.6, 3.9], [2.5, 3, 3.5], e_points, e_fit, e_top, e_right,
              (2116, 692, 2453, 756), (2464, 767, 2523, 1113), ["Pearson", "<i>R</i> = 0.302", "<i>P</i> < 0.001"], 2445, (1041, 1067, 1092), (2284, 1171), (2043, 940))
scatter_panel(15, (2814.5, 767, 3150, 1113), [2.6, 3.84], [0.559, 2.156], [2.6, 2.8, 3, 3.2, 3.4, 3.6, 3.8], [1, 1.5, 2], f_points, f_fit, f_top, f_right,
              (2814.5, 692, 3150, 756), (3161, 767, 3221, 1113), ["Pearson", "<i>R</i> = 0.125", "<i>P</i> = 0.123"], 3142, (1040, 1066, 1091), (2981, 1171), (2742, 940))


def drug_bars(i, box, xr, n, names, vals, lab_x, ticks, tickfmt, font_size):
    set_axes(i, box, xr, [n - 1 + 0.65, -0.65],
             dict(tickvals=ticks, tickformat=tickfmt, tickfont=dict(size=25, color="#222"), ticks="", ticklabelstandoff=8, type="linear"),
             dict(showticklabels=False, ticks="", type="category", categoryorder="array", categoryarray=names))
    xa, ya = f"x{i}", f"y{i}"
    fig.add_trace(go.Bar(x=vals, y=names, orientation="h", width=0.8, marker=dict(color=["#FFC0CB" if v > 0 else "#ADD8E6" for v in vals], line_width=0), xaxis=xa, yaxis=ya))
    fig.add_trace(go.Scatter(x=lab_x, y=names, mode="text", text=names, textfont=dict(size=font_size, color="#111"), cliponaxis=False, xaxis=xa, yaxis=ya))
    shapes.append(dict(type="line", xref=xa, yref=f"{ya} domain", x0=0, x1=0, y0=0, y1=1, line=dict(color="black", width=3.5), layer="above"))


# panel G
drug_bars(18, (60, 1852, 1500, 2566), [(60 - 897.5) / 805, (1500 - 897.5) / 805], 22, gdsc_drugs, gdsc_cor, gdsc_label_x,
          [round(-1 + 0.1 * k, 1) for k in range(18)], ".1f", 20)
label(899, 2627, "cor", 30)
label(117, 2206, "GDSC_Drug", 32, angle=-90)

# panel I
drug_bars(19, (60, 2713, 1770, 3403), [(60 - 900.5) / 412.2, (1770 - 900.5) / 412.2], 17, cmap_drugs, cmap_cs, cmap_label_x,
          [-2, -1, 0, 1, 2], "d", 19)
label(900, 3462, "norm_cs", 30)
label(127, 3059, "CMap_Drug(trt_cp)", 31, angle=-90)

# panel J
fig.add_trace(go.Table(domain=dict(x=[px(1933), px(2178)], y=[py(1570), py(1322)]), columnwidth=[1, 1],
                       header=dict(values=["<b>Name</b>", "<b>FDR(p-value)</b>"], fill_color="#D9D9D9", line=dict(color="black", width=2), align="center", height=25,
                                   font=dict(size=19, family=SERIF, color="black")),
                       cells=dict(values=[fdr_names, fdr_values], fill_color="white", line=dict(color="black", width=2), align="center", height=25,
                                  font=dict(size=19, family=SERIF, color="#222"))))
set_axes(21, (PAD, PAD, W + PAD, H + PAD), [PAD, W + PAD], [H + PAD, PAD], dict(visible=False), dict(visible=False))
for k in range(len(drug_nodes)):
    fig.add_trace(go.Scatter(x=[hub_xy[0], drug_x[k], class_x[k]], y=[hub_xy[1], drug_y[k], class_y[k]], mode="lines", line=dict(color="#808080", width=3), xaxis="x21", yaxis="y21"))
for k in range(len(class_nodes)):
    shapes.append(dict(type="circle", xref="x21", yref="y21", x0=class_x[k] - 162, x1=class_x[k] + 162, y0=class_y[k] - 51, y1=class_y[k] + 51, fillcolor="#FFE38F", line_width=0, layer="above"))
    label(class_x[k], class_y[k], class_nodes[k], 21)
for k in range(len(drug_nodes)):
    shapes.append(dict(type="circle", xref="x21", yref="y21", x0=drug_x[k] - 55, x1=drug_x[k] + 55, y0=drug_y[k] - 29, y1=drug_y[k] + 29, fillcolor="#ADDF8C", line_width=0, layer="above"))
    label(drug_x[k], drug_y[k], drug_nodes[k], 21)
hub_path = "M " + " L ".join(f"{p[0]} {p[1]}" for p in hub_shape) + " Z"
shapes.append(dict(type="path", xref="x21", yref="y21", path=hub_path, fillcolor="#FF8C2E", line_width=0, layer="above"))
label(2651, 1735, "YAPC_MCMBP", 22)
label(2652, 1781, "<b>(10 uM/24 h)</b>", 28, color="#555")

# legend dots of panel A
fig.add_trace(go.Scatter(x=[1789, 1789], y=[327, 366], mode="markers", marker=dict(size=22, color=[RED_A, BLUE_A]), xaxis="x21", yaxis="y21"))
label(1823, 327, "High", 33, family=SERIF, anchor="left")
label(1823, 366, "Low", 33, family=SERIF, anchor="left")

# panel K
kegg_ticktext = [t if not t.startswith("PD-L1") else "" for t in kegg_terms]
set_axes(20, (2517, 2314, 3023, 3372), [0.1975, 0.6286], [19.62, -0.62],
         dict(showline=True, mirror=True, linecolor="black", linewidth=4, ticks="outside", ticklen=10, tickwidth=4, tickcolor="black",
              tickvals=[.2, .3, .4, .5, .6], tickformat=".1f", tickfont=dict(size=31, family=SERIF, color="black"), ticklabelstandoff=6),
         dict(showline=True, mirror=True, linecolor="black", linewidth=4, ticks="outside", ticklen=14, tickwidth=4, tickcolor="black",
              type="category", categoryorder="array", categoryarray=kegg_terms, tickmode="array", tickvals=kegg_terms, ticktext=kegg_ticktext,
              tickfont=dict(size=32.5, family=SERIF, color="black")))
fig.add_trace(go.Scatter(x=kegg_ratio, y=kegg_terms, mode="markers", xaxis="x20", yaxis="y20", cliponaxis=False,
                         marker=dict(size=[count_diameter[c] for c in kegg_counts], color=[-q for q in kegg_qvalue], cmin=-12, cmax=-4, opacity=1,
                                     colorscale=[[0, "#0074F0"], [0.12, "#1F7CE8"], [0.25, "#6A6FD8"], [0.5, "#A660A8"], [0.75, "#D2506A"], [1, "#F53A10"]],
                                     line_width=0,
                                     colorbar=dict(x=px(3040), xanchor="left", y=py(2721), yanchor="middle", thickness=37, thicknessmode="pixels", len=189, lenmode="pixels",
                                                   tickvals=[-4, -6, -8, -10, -12], ticktext=["4", "6", "8", "10", "12"], ticks="inside", ticklen=12, tickcolor="white", tickwidth=2,
                                                   tickfont=dict(size=14, family=SERIF, color="black"), outlinewidth=0, xpad=0, ypad=0))))
label(2490, 3219, "PD-L1 expression and PD-1 checkpoint pathway", 32.5, family=SERIF, anchor="right")
label(2490, 3255, "in cancer", 32.5, family=SERIF, anchor="right")
label(2770, 2288, "Top 20 of KEGG Enrichment", 38, family=SERIF)
label(2769, 3455, "GeneRatio", 37, family=SERIF)
label(3040, 2611, "-log10(qvalue)", 20, family=SERIF, anchor="left")
label(3039, 3016, "Counts", 31, family=SERIF, anchor="left")
fig.add_trace(go.Scatter(x=[3058.6] * 4, y=[3056, 3095, 3132, 3174], mode="markers", xaxis="x21", yaxis="y21",
                         marker=dict(size=counts_legend_size, color="#D0D0D0", opacity=1, line=dict(color="black", width=4))))
for y, text in zip((3056, 3095, 3132, 3174), counts_legend):
    label(3095, y, text, 30, family=SERIF, anchor="left")

# panel letters
for x, y, letter, family, size in ((26, 37, "A", SANS, 48), (29, 714, "B", SANS, 56), (28, 1203, "C", SANS, 56), (711, 720, "D", SANS, 56), (1958, 40, "E", SANS, 48), (2655, 40, "F", SANS, 48),
                                   (31, 1856, "G", SANS, 56), (1344, 725, "H", SANS, 56), (34, 2712, "I", SERIF, 56), (1939, 1268, "J", SANS, 56), (1965, 2272, "K", SANS, 56)):
    label(x, y, letter, size, family=family)

fig.update_layout(width=W, height=H, margin=dict(l=0, r=0, t=0, b=0, autoexpand=False), paper_bgcolor="white", plot_bgcolor="rgba(0,0,0,0)",
                  showlegend=False, barmode="stack", violinmode="overlay", font=dict(family=SANS, color="black"),
                  annotations=annotations, shapes=shapes, hovermode=False, **layout)

fig.write_html("out.html")
